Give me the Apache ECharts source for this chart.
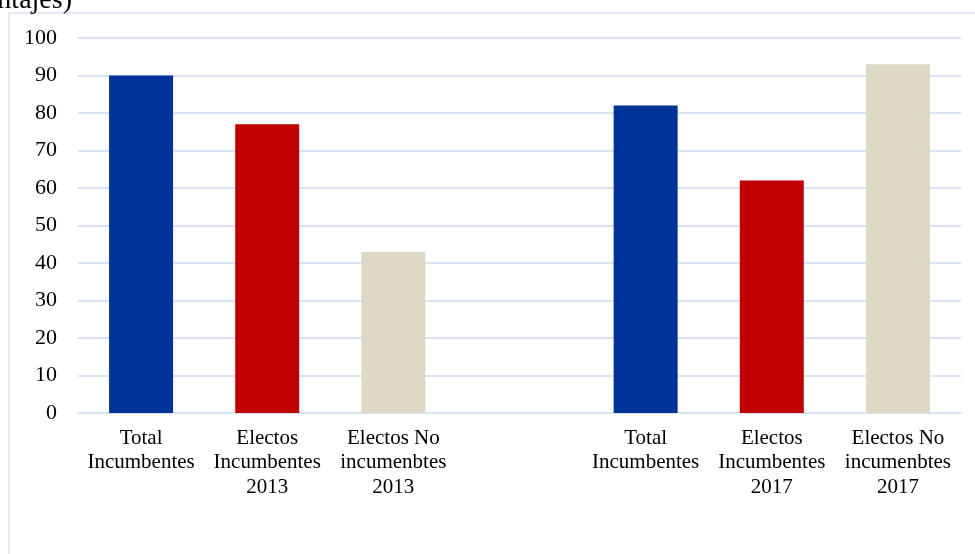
<!DOCTYPE html>
<html>
<head>
<meta charset="utf-8">
<script src="https://cdn.jsdelivr.net/npm/echarts@6/dist/echarts.min.js"></script>
<style>
  html, body { margin: 0; padding: 0; background: #ffffff; }
  #chart { width: 975px; height: 554px; }
</style>
</head>
<body>
<div id="chart"></div>
<script>
// Category labels (an empty slot separates the 2013 and 2017 groups)
const categories = [
  'Total\nIncumbentes',
  'Electos\nIncumbentes\n2013',
  'Electos No\nincumenbtes\n2013',
  '',
  'Total\nIncumbentes',
  'Electos\nIncumbentes\n2017',
  'Electos No\nincumenbtes\n2017'
];
// Percentages per category
const values = [90, 77, 43, null, 82, 62, 93];
// Kind of bar for each slot: total, elected incumbents, elected non-incumbents
const kinds = ['total', 'inc', 'noinc', null, 'total', 'inc', 'noinc'];
// Y-axis ticks
const yMin = 0;
const yMax = 100;
const yStep = 10;

const kindColors = { total: '#003399', inc: '#C00000', noinc: '#DDD9C4' };
const gridColor = '#D9E3F3';
const serif = '"Liberation Serif", "Times New Roman", serif';

const chart = echarts.init(document.getElementById('chart'));
chart.setOption({
  animation: false,
  backgroundColor: '#ffffff',
  graphic: [
    {
      type: 'rect',
      shape: { x: 9, y: 13, width: 1000, height: 600 },
      style: { fill: 'none', stroke: gridColor, lineWidth: 1.5 },
      silent: true
    },
    {
      type: 'text',
      x: 72,
      y: 1,
      style: {
        text: '(en porcentajes)',
        font: '28px ' + serif,
        fill: '#000000',
        align: 'right',
        verticalAlign: 'middle'
      },
      silent: true
    }
  ],
  grid: { left: 78, right: 14, top: 38, bottom: 141, containLabel: false },
  xAxis: {
    type: 'category',
    data: categories,
    axisLine: { show: true, lineStyle: { color: gridColor, width: 2 } },
    axisTick: { show: false },
    axisLabel: {
      interval: 0,
      margin: 13,
      color: '#000000',
      fontFamily: serif,
      fontSize: 21,
      lineHeight: 24.5
    }
  },
  yAxis: {
    type: 'value',
    min: yMin,
    max: yMax,
    interval: yStep,
    axisLine: { show: false },
    axisTick: { show: false },
    splitLine: { lineStyle: { color: gridColor, width: 2 } },
    axisLabel: {
      margin: 21,
      color: '#000000',
      fontFamily: serif,
      fontSize: 22
    }
  },
  series: [{
    type: 'bar',
    barWidth: 64,
    data: values.map((v, i) => ({
      value: v,
      itemStyle: { color: kinds[i] ? kindColors[kinds[i]] : 'transparent' }
    }))
  }]
});
</script>
</body>
</html>
